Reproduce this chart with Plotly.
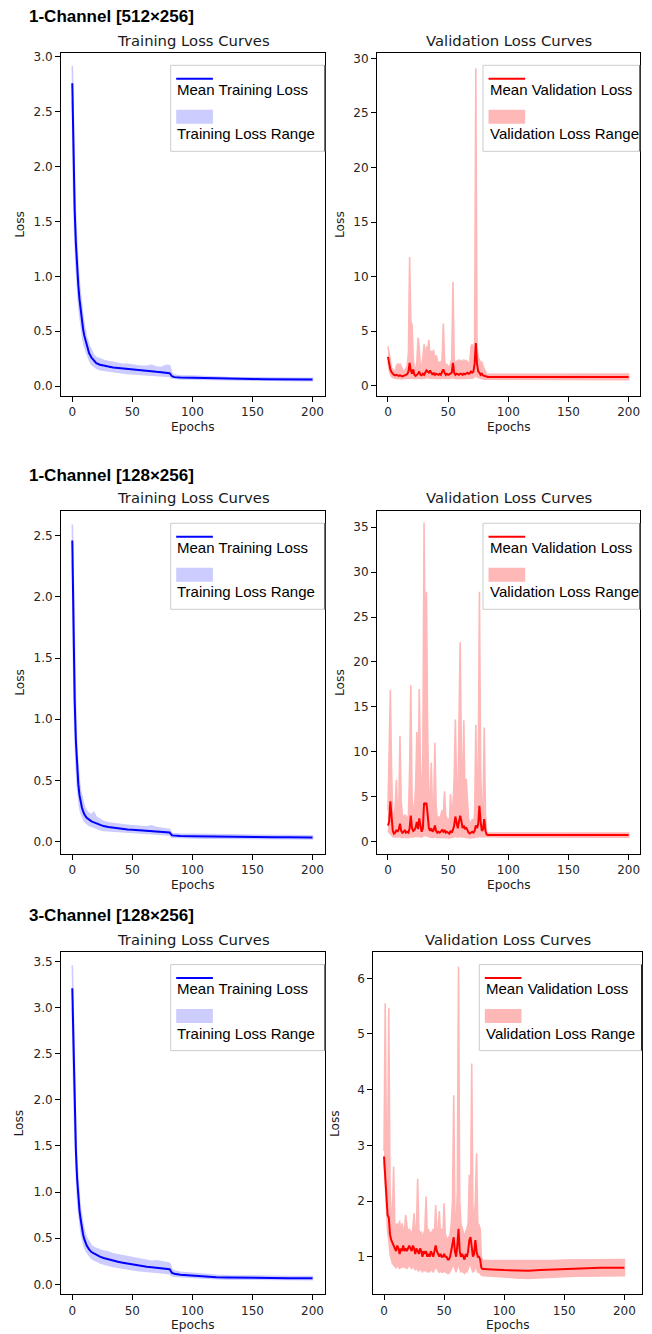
import plotly.graph_objects as go

# ---------------- data ----------------
TRAIN_EPOCHS = [0, 1, 2, 3, 4, 5, 6, 7, 8, 9, 10, 12, 14, 16, 18, 20, 23, 26, 30, 34,
                38, 42, 46, 50, 54, 58, 62, 66, 70, 74, 78, 81, 83, 85, 90, 100, 110, 120, 130, 140,
                150, 160, 170, 180, 190, 200]

T1_MEAN = [2.76, 2.05, 1.6, 1.3, 1.08, 0.92, 0.79, 0.69, 0.6, 0.52, 0.46, 0.37, 0.3, 0.26, 0.23, 0.21, 0.195, 0.185, 0.178, 0.17,
           0.165, 0.16, 0.155, 0.15, 0.146, 0.142, 0.138, 0.134, 0.13, 0.127, 0.124, 0.118, 0.09, 0.082, 0.078, 0.075, 0.072, 0.068, 0.066, 0.065,
           0.064, 0.063, 0.062, 0.062, 0.061, 0.06]
T1_HIGH = [2.92, 2.3, 1.8, 1.48, 1.24, 1.06, 0.92, 0.81, 0.71, 0.62, 0.55, 0.44, 0.37, 0.32, 0.28, 0.26, 0.245, 0.235, 0.225, 0.215,
           0.21, 0.2, 0.2, 0.19, 0.185, 0.18, 0.18, 0.19, 0.175, 0.17, 0.19, 0.185, 0.11, 0.1, 0.095, 0.092, 0.09, 0.082, 0.078, 0.076,
           0.075, 0.074, 0.073, 0.073, 0.072, 0.071]
T1_LOW = [2.6, 1.8, 1.4, 1.12, 0.92, 0.78, 0.66, 0.57, 0.49, 0.42, 0.37, 0.3, 0.24, 0.2, 0.18, 0.165, 0.15, 0.14, 0.135, 0.13,
          0.125, 0.12, 0.115, 0.11, 0.107, 0.104, 0.1, 0.097, 0.095, 0.092, 0.09, 0.088, 0.075, 0.068, 0.065, 0.062, 0.06, 0.056, 0.054, 0.053,
          0.052, 0.052, 0.051, 0.051, 0.05, 0.05]

T2_MEAN = [2.46, 1.7, 1.15, 0.82, 0.6, 0.47, 0.38, 0.32, 0.28, 0.25, 0.225, 0.195, 0.178, 0.167, 0.158, 0.15, 0.138, 0.128, 0.12, 0.114,
           0.109, 0.105, 0.1, 0.097, 0.094, 0.091, 0.088, 0.086, 0.084, 0.081, 0.078, 0.075, 0.052, 0.049, 0.047, 0.045, 0.043, 0.04, 0.039, 0.038,
           0.037, 0.037, 0.036, 0.036, 0.035, 0.035]
T2_HIGH = [2.59, 1.95, 1.35, 0.98, 0.73, 0.58, 0.48, 0.41, 0.36, 0.32, 0.29, 0.25, 0.23, 0.22, 0.24, 0.2, 0.18, 0.165, 0.155, 0.148,
           0.142, 0.138, 0.135, 0.13, 0.127, 0.125, 0.122, 0.13, 0.115, 0.11, 0.105, 0.1, 0.068, 0.064, 0.062, 0.06, 0.058, 0.055, 0.053, 0.052,
           0.051, 0.051, 0.05, 0.05, 0.049, 0.049]
T2_LOW = [2.3, 1.45, 0.95, 0.66, 0.47, 0.36, 0.29, 0.24, 0.21, 0.19, 0.17, 0.15, 0.135, 0.125, 0.118, 0.11, 0.1, 0.092, 0.088, 0.083,
          0.08, 0.077, 0.074, 0.071, 0.069, 0.067, 0.065, 0.063, 0.062, 0.06, 0.058, 0.056, 0.038, 0.035, 0.033, 0.032, 0.03, 0.028, 0.027, 0.026,
          0.025, 0.025, 0.024, 0.024, 0.023, 0.023]

T3_MEAN = [3.21, 2.5, 1.9, 1.45, 1.15, 0.95, 0.8, 0.7, 0.61, 0.54, 0.49, 0.42, 0.38, 0.35, 0.335, 0.32, 0.3, 0.285, 0.27, 0.255,
           0.245, 0.235, 0.225, 0.215, 0.205, 0.2, 0.19, 0.185, 0.18, 0.175, 0.17, 0.163, 0.125, 0.115, 0.105, 0.094, 0.086, 0.078, 0.074, 0.071,
           0.069, 0.068, 0.067, 0.066, 0.066, 0.065]
T3_HIGH = [3.46, 2.75, 2.1, 1.62, 1.3, 1.08, 0.92, 0.81, 0.71, 0.64, 0.58, 0.5, 0.46, 0.42, 0.4, 0.39, 0.37, 0.36, 0.35, 0.33,
           0.32, 0.31, 0.3, 0.29, 0.275, 0.27, 0.26, 0.25, 0.255, 0.245, 0.24, 0.23, 0.16, 0.145, 0.13, 0.118, 0.108, 0.098, 0.093, 0.09,
           0.088, 0.087, 0.086, 0.085, 0.085, 0.084]
T3_LOW = [3.0, 2.25, 1.7, 1.28, 1.0, 0.82, 0.68, 0.59, 0.51, 0.45, 0.41, 0.35, 0.31, 0.28, 0.265, 0.25, 0.235, 0.22, 0.205, 0.195,
          0.185, 0.175, 0.165, 0.158, 0.15, 0.145, 0.138, 0.133, 0.128, 0.124, 0.12, 0.115, 0.095, 0.088, 0.08, 0.072, 0.066, 0.06, 0.057, 0.055,
          0.054, 0.053, 0.052, 0.052, 0.051, 0.051]

VAL_EPOCHS = list(range(0, 86)) + [90, 100, 110, 120, 130, 140, 150, 160, 170, 180, 190, 200]

V1_MEAN = [2.65, 2.0, 1.5, 1.25, 1.1, 1.0, 0.95, 1.0, 0.95, 0.9,
           0.95, 0.9, 0.85, 0.9, 0.95, 1.0, 1.05, 1.3, 2.1, 1.4,
           1.1, 1.5, 1.0, 0.9, 1.0, 1.1, 1.3, 1.0, 0.95, 1.1,
           1.0, 1.2, 1.4, 1.3, 1.2, 1.4, 1.1, 1.0, 1.2, 1.0,
           1.1, 1.05, 1.0, 1.1, 1.0, 1.3, 1.5, 1.2, 1.0, 1.1,
           1.0, 1.05, 1.1, 1.2, 2.1, 1.2, 1.0, 1.1, 1.05, 1.0,
           1.1, 1.1, 1.0, 1.1, 1.05, 1.1, 1.2, 1.1, 1.15, 1.3,
           1.2, 1.3, 2.0, 3.9, 2.0, 1.3, 1.2, 1.0, 1.1, 0.95,
           0.9, 0.85, 0.8, 0.8, 0.8, 0.8,
           0.8, 0.8, 0.8, 0.79, 0.79, 0.79, 0.79, 0.8, 0.8, 0.8, 0.81, 0.81]
V1_HIGH = [3.6, 2.8, 2.0, 1.6, 1.5, 1.4, 1.3, 1.8, 2.0, 1.9,
           2.0, 1.8, 1.5, 1.3, 1.4, 1.6, 1.8, 3.0, 11.8, 5.9,
           5.6, 2.5, 1.6, 1.5, 2.2, 4.4, 3.5, 1.5, 1.8, 2.6,
           3.8, 2.4, 3.6, 3.2, 4.2, 2.5, 3.2, 2.8, 3.3, 2.0,
           2.8, 2.4, 1.8, 2.2, 2.0, 2.5, 5.7, 2.5, 1.6, 2.0,
           1.7, 1.8, 2.0, 2.4, 9.5, 2.5, 1.8, 2.3, 2.0, 2.4,
           2.2, 2.3, 2.0, 2.4, 2.1, 2.3, 2.2, 2.0, 2.2, 3.6,
           3.8, 3.0, 4.0, 29.1, 3.5, 2.6, 2.4, 2.0, 2.2, 1.8,
           1.6, 1.3, 1.05, 1.05, 1.05, 1.05,
           1.05, 1.05, 1.08, 1.05, 1.05, 1.04, 1.04, 1.05, 1.05, 1.05, 1.06, 1.06]
V1_LOW = [2.2, 1.5, 1.05, 0.85, 0.75, 0.7, 0.68, 0.66, 0.65, 0.64,
          0.65, 0.63, 0.62, 0.63, 0.65, 0.66, 0.68, 0.7, 0.75, 0.72,
          0.7, 0.68, 0.66, 0.64, 0.66, 0.7, 0.72, 0.68, 0.65, 0.7,
          0.68, 0.72, 0.75, 0.72, 0.7, 0.72, 0.68, 0.66, 0.7, 0.66,
          0.68, 0.66, 0.65, 0.68, 0.66, 0.7, 0.72, 0.7, 0.66, 0.68,
          0.66, 0.67, 0.68, 0.7, 0.75, 0.7, 0.66, 0.68, 0.66, 0.65,
          0.68, 0.68, 0.66, 0.68, 0.66, 0.68, 0.7, 0.68, 0.69, 0.72,
          0.7, 0.72, 0.8, 1.0, 0.8, 0.7, 0.68, 0.64, 0.65, 0.62,
          0.6, 0.58, 0.56, 0.56, 0.56, 0.56,
          0.56, 0.56, 0.55, 0.54, 0.54, 0.54, 0.55, 0.55, 0.55, 0.56, 0.56, 0.56]

V2_MEAN = [1.8, 2.2, 4.5, 2.5, 1.2, 0.9, 1.0, 1.3, 1.1, 1.4,
           2.0, 1.2, 1.0, 1.1, 1.3, 1.0, 1.1, 1.0, 1.5, 2.9,
           1.5, 1.2, 1.3, 1.6, 2.2, 1.4, 2.6, 1.8, 1.1, 1.5,
           4.3, 4.2, 4.3, 3.0, 1.5, 1.2, 1.5, 1.1, 1.3, 1.8,
           1.2, 1.0, 1.1, 1.0, 1.2, 1.3, 1.1, 1.3, 1.0, 1.1,
           1.0, 0.9, 1.2, 1.0, 1.3, 1.8, 2.8, 2.0, 1.5, 2.2,
           2.9, 2.3, 1.5, 1.8, 1.4, 1.6, 1.2, 1.0, 0.9, 1.0,
           1.1, 1.0, 1.2, 1.8, 1.5, 2.0, 4.0, 2.2, 1.2, 1.4,
           2.5, 1.2, 0.8, 0.75, 0.75, 0.75,
           0.75, 0.75, 0.75, 0.75, 0.75, 0.75, 0.75, 0.75, 0.75, 0.75, 0.75, 0.75]
V2_HIGH = [3.5, 12.0, 16.9, 8.0, 3.0, 2.5, 4.0, 6.9, 3.0, 4.0,
           11.8, 4.5, 3.0, 2.5, 3.0, 2.8, 2.5, 3.0, 8.0, 17.4,
           5.0, 3.0, 4.0, 6.0, 12.2, 5.0, 17.0, 8.0, 3.0, 10.0,
           35.5, 20.0, 27.8, 12.0, 5.0, 4.0, 8.8, 3.5, 4.0, 11.0,
           4.0, 2.5, 2.8, 2.5, 3.0, 3.5, 3.0, 5.6, 3.0, 2.5,
           2.5, 2.3, 5.3, 3.0, 4.0, 7.0, 13.6, 6.0, 4.0, 12.0,
           22.2, 10.0, 5.0, 13.5, 5.0, 7.0, 4.0, 2.5, 2.2, 2.0,
           2.5, 2.2, 3.0, 13.0, 5.0, 8.0, 27.8, 8.0, 3.0, 4.0,
           12.7, 3.0, 1.0, 0.95, 0.95, 0.95,
           0.95, 0.95, 0.95, 0.95, 0.95, 0.95, 0.95, 0.95, 0.95, 0.95, 0.95, 0.95]
V2_LOW = [1.2, 1.0, 0.9, 0.8, 0.6, 0.5, 0.5, 0.55, 0.5, 0.55,
          0.6, 0.5, 0.45, 0.5, 0.55, 0.45, 0.5, 0.45, 0.55, 0.6,
          0.5, 0.5, 0.55, 0.6, 0.6, 0.55, 0.6, 0.55, 0.5, 0.55,
          0.7, 0.7, 0.7, 0.6, 0.55, 0.5, 0.5, 0.45, 0.5, 0.55,
          0.5, 0.45, 0.5, 0.45, 0.5, 0.5, 0.45, 0.5, 0.45, 0.5,
          0.45, 0.4, 0.5, 0.45, 0.5, 0.55, 0.6, 0.55, 0.5, 0.55,
          0.6, 0.55, 0.5, 0.55, 0.5, 0.5, 0.45, 0.45, 0.4, 0.45,
          0.5, 0.45, 0.5, 0.55, 0.5, 0.55, 0.6, 0.55, 0.5, 0.5,
          0.55, 0.5, 0.5, 0.5, 0.5, 0.5,
          0.5, 0.5, 0.5, 0.5, 0.5, 0.5, 0.5, 0.5, 0.5, 0.5, 0.5, 0.5]

V3_MEAN = [2.8, 2.5, 2.2, 1.75, 1.7, 1.4, 1.3, 1.25, 1.2, 1.15,
           1.1, 1.2, 1.15, 1.05, 1.15, 1.1, 1.2, 1.1, 1.15, 1.1,
           1.15, 1.2, 1.15, 1.1, 1.2, 1.15, 1.05, 1.15, 1.1, 1.05,
           1.15, 1.1, 1.0, 1.1, 1.05, 1.1, 1.0, 1.05, 1.0, 1.1,
           1.05, 1.0, 1.1, 1.2, 1.1, 1.05, 1.0, 1.05, 1.0, 1.0,
           1.05, 1.0, 1.0, 0.95, 0.95, 1.0, 1.1, 1.2, 1.35, 1.1,
           1.0, 1.2, 1.5, 1.1, 1.0, 1.05, 1.0, 0.95, 1.05, 1.0,
           1.1, 1.3, 1.35, 1.1, 1.0, 1.05, 1.3, 1.1, 1.0, 1.0,
           0.95, 0.8, 0.78, 0.78, 0.78, 0.78,
           0.77, 0.76, 0.75, 0.75, 0.76, 0.77, 0.78, 0.79, 0.79, 0.8, 0.8, 0.8]
V3_HIGH = [2.9, 5.55, 3.0, 2.8, 5.46, 2.2, 1.8, 1.7, 2.62, 1.6,
           1.5, 1.6, 1.5, 1.65, 1.4, 1.6, 1.5, 1.45, 1.75, 1.5,
           1.4, 1.5, 1.45, 1.4, 1.5, 1.78, 1.4, 1.5, 2.4, 1.5,
           1.4, 1.45, 1.35, 1.4, 1.5, 2.08, 1.4, 1.5, 1.35, 1.45,
           1.4, 1.5, 1.4, 1.93, 1.5, 1.4, 1.82, 1.4, 1.5, 1.4,
           1.96, 1.4, 1.35, 1.3, 1.35, 1.4, 1.6, 2.0, 3.9, 1.8,
           1.5, 2.2, 6.21, 2.0, 1.6, 1.5, 1.4, 1.35, 1.45, 1.5,
           1.6, 2.47, 2.0, 4.47, 1.8, 1.7, 2.0, 2.86, 1.6, 1.57,
           1.5, 1.0, 0.93, 0.93, 0.93, 0.93,
           0.93, 0.93, 0.92, 0.92, 0.93, 0.93, 0.94, 0.94, 0.94, 0.95, 0.95, 0.95]
V3_LOW = [2.7, 2.3, 1.9, 1.45, 1.3, 1.05, 0.95, 0.88, 0.85, 0.82,
          0.8, 0.85, 0.82, 0.78, 0.84, 0.8, 0.86, 0.8, 0.83, 0.78,
          0.82, 0.86, 0.82, 0.78, 0.85, 0.82, 0.76, 0.8, 0.78, 0.74,
          0.8, 0.76, 0.72, 0.78, 0.74, 0.78, 0.72, 0.75, 0.72, 0.78,
          0.75, 0.72, 0.78, 0.82, 0.78, 0.75, 0.72, 0.74, 0.72, 0.72,
          0.75, 0.72, 0.72, 0.7, 0.7, 0.72, 0.78, 0.82, 0.88, 0.78,
          0.72, 0.8, 0.9, 0.78, 0.72, 0.75, 0.72, 0.7, 0.75, 0.72,
          0.78, 0.85, 0.86, 0.78, 0.72, 0.75, 0.85, 0.78, 0.72, 0.72,
          0.7, 0.67, 0.66, 0.66, 0.66, 0.66,
          0.65, 0.64, 0.62, 0.61, 0.62, 0.63, 0.64, 0.65, 0.65, 0.65, 0.66, 0.66]

ROW_TITLES = ["1-Channel [512×256]", "1-Channel [128×256]", "3-Channel [128×256]"]
X_TICKS = [0, 50, 100, 150, 200]

# ---------------- layout helpers ----------------
W, H = 652, 1334


def fx(p):
    return p / W


def fy(p):
    return 1 - p / H


# fills are drawn over a white background, so opaque equivalents of the
# matplotlib alpha fills are used (lets the outline widen the thin spikes)
BLUE, BLUE_FILL = "#0000ff", "#ccccff"
RED, RED_FILL = "#ff0000", "#ffb8b8"
TICK_FONT = dict(family="DejaVu Sans", size=12, color="#262626")

panels = [
    dict(kind="train", x=TRAIN_EPOCHS, mean=T1_MEAN, low=T1_LOW, high=T1_HIGH,
         box=(61, 325, 53, 396), xr=[-9.4, 210.4], yr=[-0.09, 3.036],
         yt=[0, 0.5, 1.0, 1.5, 2.0, 2.5, 3.0], fmt=".1f"),
    dict(kind="val", x=VAL_EPOCHS, mean=V1_MEAN, low=V1_LOW, high=V1_HIGH,
         box=(377, 640, 53, 396), xr=[-9.1, 209.4], yr=[-0.94, 30.49],
         yt=[0, 5, 10, 15, 20, 25, 30], fmt="d"),
    dict(kind="train", x=TRAIN_EPOCHS, mean=T2_MEAN, low=T2_LOW, high=T2_HIGH,
         box=(61, 325, 511, 854), xr=[-9.4, 210.4], yr=[-0.10, 2.70],
         yt=[0, 0.5, 1.0, 1.5, 2.0, 2.5], fmt=".1f"),
    dict(kind="val", x=VAL_EPOCHS, mean=V2_MEAN, low=V2_LOW, high=V2_HIGH,
         box=(377, 640, 511, 854), xr=[-9.1, 209.4], yr=[-1.37, 36.8],
         yt=[0, 5, 10, 15, 20, 25, 30, 35], fmt="d"),
    dict(kind="train", x=TRAIN_EPOCHS, mean=T3_MEAN, low=T3_LOW, high=T3_HIGH,
         box=(61, 325, 952.3, 1294.3), xr=[-9.4, 210.4], yr=[-0.108, 3.60],
         yt=[0, 0.5, 1.0, 1.5, 2.0, 2.5, 3.0, 3.5], fmt=".1f"),
    dict(kind="val", x=VAL_EPOCHS, mean=V3_MEAN, low=V3_LOW, high=V3_HIGH,
         box=(373.3, 641.7, 952.3, 1294.3), xr=[-8.9, 214.4], yr=[0.325, 6.467],
         yt=[1, 2, 3, 4, 5, 6], fmt="d"),
]

fig = go.Figure()
layout = dict(width=W, height=H, margin=dict(l=0, r=0, t=0, b=0), autosize=False,
              paper_bgcolor="white", plot_bgcolor="white", showlegend=False,
              template="none")
shapes, annotations = [], []

for i, p in enumerate(panels):
    n = "" if i == 0 else str(i + 1)
    xa, ya = "x" + n, "y" + n
    x0, x1, y0, y1 = p["box"]
    is_train = p["kind"] == "train"
    line_c = BLUE if is_train else RED
    fill_c = BLUE_FILL if is_train else RED_FILL

    xs = p["x"]
    fig.add_trace(go.Scatter(x=list(xs) + list(xs)[::-1], y=list(p["high"]) + list(p["low"])[::-1],
                             fill="toself", fillcolor=fill_c, line=dict(width=1.6, color=fill_c),
                             mode="lines", hoverinfo="skip", xaxis=xa, yaxis=ya))
    fig.add_trace(go.Scatter(x=xs, y=p["mean"], mode="lines", line=dict(color=line_c, width=2),
                             xaxis=xa, yaxis=ya))

    common = dict(showline=True, mirror=True, linecolor="black", linewidth=1,
                  ticks="outside", ticklen=5, tickwidth=1, tickcolor="black",
                  showgrid=False, zeroline=False, tickfont=TICK_FONT)
    layout["xaxis" + n] = dict(domain=[fx(x0), fx(x1)], anchor=ya, range=p["xr"],
                               tickvals=X_TICKS, **common)
    layout["yaxis" + n] = dict(domain=[fy(y1), fy(y0)], anchor=xa, range=p["yr"],
                               tickvals=p["yt"], tickformat=p["fmt"], **common)

    cx = (x0 + x1) / 2
    # subplot title
    annotations.append(dict(text="Training Loss Curves" if is_train else "Validation Loss Curves",
                            x=fx(cx), y=fy(y0 - 13), xref="paper", yref="paper",
                            xanchor="center", yanchor="middle", showarrow=False,
                            font=dict(family="DejaVu Sans", size=14.8, color="#1a1a1a")))
    # axis titles
    annotations.append(dict(text="Epochs", x=fx(cx), y=fy(y1 + 30.7), xref="paper", yref="paper",
                            xanchor="center", yanchor="middle", showarrow=False,
                            font=dict(family="DejaVu Sans", size=12.2, color="#1a1a1a")))
    annotations.append(dict(text="Loss", x=fx(x0 - (41.7 if is_train else 37.5)), y=fy((y0 + y1) / 2),
                            xref="paper", yref="paper", textangle=-90,
                            xanchor="center", yanchor="middle", showarrow=False,
                            font=dict(family="DejaVu Sans", size=12.2, color="#1a1a1a")))

    # legend (drawn as a matplotlib-style box)
    lx0 = x0 + (109.7 if is_train else 106)
    ltop = y0 + 12.3
    shapes.append(dict(type="rect", xref="paper", yref="paper", layer="above",
                       x0=fx(lx0), x1=fx(x1), y0=fy(ltop + 86), y1=fy(ltop),
                       line=dict(color="#cccccc", width=1), fillcolor="rgba(255,255,255,0.85)"))
    tx = lx0 + 5.5
    shapes.append(dict(type="line", xref="paper", yref="paper", layer="above",
                       x0=fx(tx), x1=fx(tx + 36.7), y0=fy(ltop + 13.4), y1=fy(ltop + 13.4),
                       line=dict(color=line_c, width=2)))
    shapes.append(dict(type="rect", xref="paper", yref="paper", layer="above",
                       x0=fx(tx), x1=fx(tx + 36.7), y0=fy(ltop + 58.4), y1=fy(ltop + 44.4),
                       line=dict(width=0), fillcolor=fill_c))
    label_a = "Mean Training Loss" if is_train else "Mean Validation Loss"
    label_b = "Training Loss Range" if is_train else "Validation Loss Range"
    for txt, yy in ((label_a, ltop + 24.2), (label_b, ltop + 68.4)):
        annotations.append(dict(text=txt, x=fx(tx - 1), y=fy(yy), xref="paper", yref="paper",
                                xanchor="left", yanchor="middle", showarrow=False,
                                font=dict(family="Liberation Sans", size=15, color="black")))
    # spine redraw over legend box right edge
    shapes.append(dict(type="line", xref="paper", yref="paper", layer="above",
                       x0=fx(x1), x1=fx(x1), y0=fy(ltop + 86), y1=fy(ltop),
                       line=dict(color="black", width=1)))

# row titles
for title, yy in zip(ROW_TITLES, [16.7, 475, 915.7]):
    annotations.append(dict(text="<b>" + title + "</b>", x=fx(27), y=fy(yy), xref="paper", yref="paper",
                            xanchor="left", yanchor="middle", showarrow=False,
                            font=dict(family="Liberation Sans", size=17, color="black")))

layout["shapes"] = shapes
layout["annotations"] = annotations
fig.update_layout(**layout)
fig.write_html("out.html", config={"displayModeBar": False},
               post_script="document.body.style.margin='0';document.body.style.overflow='hidden';"
                           "document.documentElement.style.overflow='hidden';")
